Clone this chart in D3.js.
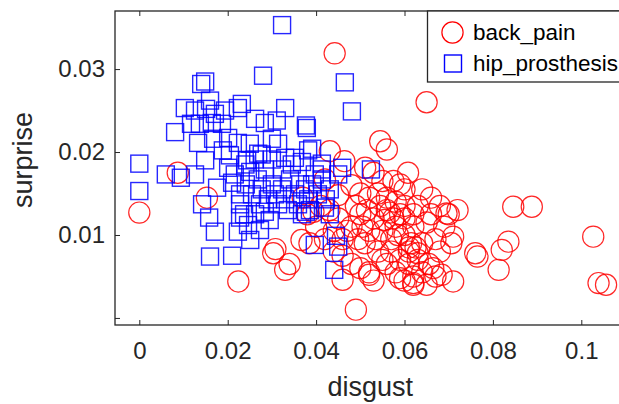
<!DOCTYPE html>
<html>
<head>
<meta charset="utf-8">
<script src="https://cdn.jsdelivr.net/npm/d3@7"></script>
<style>
  body { margin: 0; background: #fff; }
  svg { display: block; font-family: "Liberation Sans", Arial, sans-serif; }
</style>
</head>
<body>
<svg id="canvas"></svg>
<script>
// series: [disgust, surprise]
const backPain = [
  [0.0, 0.0127], [0.0087, 0.0175], [0.0153, 0.0145], [0.0224, 0.0044], [0.0303, 0.0078],
  [0.0308, 0.0083], [0.033, 0.0058], [0.034, 0.0065], [0.0367, 0.0094], [0.0394, 0.0128],
  [0.0442, 0.0319], [0.065, 0.026], [0.0545, 0.0213], [0.056, 0.0203], [0.0431, 0.0201],
  [0.0464, 0.0189], [0.0608, 0.0175], [0.0575, 0.0165], [0.059, 0.0161], [0.042, 0.0167],
  [0.0511, 0.0181],
  [0.038, 0.0125], [0.037, 0.0145], [0.04, 0.011], [0.0385, 0.009], [0.042, 0.0095],
  [0.044, 0.008], [0.046, 0.0095], [0.045, 0.012], [0.041, 0.0135], [0.043, 0.013],
  [0.044, 0.0105], [0.045, 0.0148],
  [0.048, 0.011], [0.05, 0.0125], [0.051, 0.009], [0.052, 0.0105], [0.053, 0.012],
  [0.054, 0.008], [0.055, 0.0105], [0.056, 0.013], [0.057, 0.0095], [0.058, 0.011],
  [0.059, 0.0125], [0.06, 0.01], [0.061, 0.0085], [0.062, 0.011], [0.063, 0.0135],
  [0.06, 0.0135], [0.058, 0.014], [0.056, 0.0145], [0.054, 0.015], [0.052, 0.0145],
  [0.05, 0.015], [0.049, 0.0135], [0.047, 0.0105], [0.046, 0.0075], [0.048, 0.0065],
  [0.05, 0.006], [0.052, 0.0055], [0.053, 0.0045], [0.056, 0.0065], [0.058, 0.0055],
  [0.06, 0.0045], [0.062, 0.005], [0.061, 0.0065], [0.063, 0.007], [0.064, 0.0055],
  [0.065, 0.004], [0.062, 0.004], [0.059, 0.007], [0.057, 0.008], [0.055, 0.007],
  [0.064, 0.009], [0.065, 0.0115], [0.066, 0.0125], [0.067, 0.0095], [0.068, 0.008],
  [0.069, 0.011], [0.07, 0.0125], [0.072, 0.013], [0.068, 0.0135], [0.066, 0.0145],
  [0.064, 0.0155], [0.06, 0.0155], [0.055, 0.0165], [0.053, 0.0175], [0.048, 0.016],
  [0.046, 0.0046], [0.052, 0.0052], [0.059, 0.0048], [0.062, 0.0042], [0.061, 0.008],
  [0.0625, 0.0085], [0.063, 0.0078], [0.0615, 0.009], [0.0567, 0.0127], [0.0575, 0.012],
  [0.0555, 0.0118], [0.0585, 0.01], [0.0535, 0.0095], [0.0505, 0.011], [0.0495, 0.0095],
  [0.0515, 0.013], [0.0545, 0.0135], [0.06, 0.012], [0.062, 0.0125], [0.0655, 0.0065],
  [0.067, 0.005], [0.0665, 0.006],
  [0.0706, 0.009], [0.071, 0.0098], [0.0695, 0.0126], [0.071, 0.0044], [0.0684, 0.0052],
  [0.076, 0.0078], [0.0765, 0.0074], [0.0813, 0.0058], [0.082, 0.0082], [0.0835, 0.0092],
  [0.0846, 0.0134], [0.0888, 0.0134], [0.1027, 0.0098], [0.1039, 0.0042], [0.1056, 0.004],
  [0.049, 0.001]
];

const hipProsthesis = [
  [0.0323, 0.0353], [0.028, 0.0292], [0.0465, 0.0284], [0.0481, 0.0249], [0.014, 0.0282],
  [0.0149, 0.0285], [0.016, 0.0262], [0.0103, 0.0253], [0.0126, 0.025], [0.0151, 0.0252],
  [0.0171, 0.0246], [0.0194, 0.025], [0.0223, 0.0253], [0.0081, 0.0224], [0.0117, 0.0234],
  [0.0137, 0.0234], [0.0164, 0.0235], [0.0187, 0.0234], [0.0133, 0.0211], [0.0167, 0.0216],
  [0.0201, 0.0217], [0.0223, 0.0211], [0.0149, 0.019], [0.0189, 0.0202], [0.0205, 0.0196],
  [0.0, 0.0186], [0.033, 0.0253], [0.0232, 0.0258], [0.0262, 0.024], [0.0284, 0.0235],
  [0.0311, 0.0238], [0.0377, 0.0232], [0.0379, 0.0229], [0.025, 0.021], [0.03, 0.0216],
  [0.0314, 0.021], [0.0382, 0.0202], [0.0391, 0.0204], [0.033, 0.0193], [0.0352, 0.0193],
  [0.0413, 0.0186], [0.0269, 0.0198], [0.0244, 0.019], [0.0459, 0.0181], [0.0, 0.0153],
  [0.006, 0.0173], [0.0094, 0.0169], [0.0126, 0.0173], [0.0142, 0.0137], [0.0158, 0.0121],
  [0.0171, 0.0104], [0.016, 0.0074], [0.021, 0.0075], [0.0176, 0.0157], [0.021, 0.0163],
  [0.0228, 0.0121], [0.0223, 0.0104], [0.0201, 0.0181], [0.0228, 0.0149],
  [0.024, 0.0185], [0.0251, 0.0176], [0.0261, 0.0191], [0.0268, 0.0167], [0.0277, 0.0155],
  [0.0284, 0.0179], [0.0291, 0.0143], [0.03, 0.0161], [0.0307, 0.0149], [0.0314, 0.0137],
  [0.0323, 0.0155], [0.033, 0.0143], [0.0336, 0.013], [0.0341, 0.0167], [0.0352, 0.0149],
  [0.0359, 0.0137], [0.0364, 0.0161], [0.0368, 0.0125], [0.0375, 0.0155], [0.0382, 0.0143],
  [0.0386, 0.013], [0.0391, 0.0161], [0.0397, 0.0173], [0.0404, 0.0149], [0.0413, 0.0167],
  [0.0422, 0.0143], [0.0431, 0.0155], [0.0228, 0.0137], [0.0237, 0.0125], [0.0246, 0.0112],
  [0.0262, 0.0125], [0.0273, 0.0137], [0.0284, 0.0128], [0.0295, 0.0118], [0.0255, 0.0149],
  [0.0241, 0.0161], [0.0216, 0.0173], [0.0277, 0.0197], [0.03, 0.0191], [0.0323, 0.0179],
  [0.0345, 0.0185], [0.0368, 0.0188], [0.042, 0.0133], [0.0431, 0.0125], [0.0377, 0.0128],
  [0.0397, 0.0088], [0.0445, 0.0099], [0.045, 0.0086], [0.0441, 0.0058], [0.0524, 0.0179],
  [0.045, 0.0173], [0.0413, 0.0179], [0.0273, 0.0106], [0.0251, 0.0094]
];

const xTicks = [0, 0.02, 0.04, 0.06, 0.08, 0.1];
const xTickLabels = ["0", "0.02", "0.04", "0.06", "0.08", "0.1"];
const yTicks = [0, 0.01, 0.02, 0.03];
const yTickLabels = ["", "0.01", "0.02", "0.03"];
const seriesNames = ["back_pain", "hip_prosthesis"];

const width = 619;
const height = 404;
const plotLeft = 115;
const plotRight = 625.5;
const plotTop = 11;
const plotBottom = 325;
const ink = "#262626";

const canvas = d3.select("#canvas").attr("width", width).attr("height", height);

const xScale = d3.scaleLinear().domain([-0.0055, 0.11]).range([plotLeft, plotRight]);
const yScale = d3.scaleLinear().domain([-0.00085, 0.037]).range([plotBottom, plotTop]);

// markers first, axes box on top
const plot = canvas.append("g");

plot.selectAll("circle")
  .data(backPain)
  .enter()
  .append("circle")
  .attr("cx", (d) => xScale(d[0]))
  .attr("cy", (d) => yScale(d[1]))
  .attr("r", 10.6)
  .attr("fill", "none")
  .attr("stroke", "#ff0000")
  .attr("stroke-opacity", 0.85)
  .attr("stroke-width", 1.2);

const sq = 17;
plot.selectAll("rect")
  .data(hipProsthesis)
  .enter()
  .append("rect")
  .attr("x", (d) => xScale(d[0]) - sq / 2)
  .attr("y", (d) => yScale(d[1]) - sq / 2)
  .attr("width", sq)
  .attr("height", sq)
  .attr("fill", "none")
  .attr("stroke", "#0000ff")
  .attr("stroke-opacity", 0.85)
  .attr("stroke-width", 1.4);

const drawAxes = () => {
  const tickLen = 5;
  const xAxis = d3.axisBottom(xScale)
    .tickValues(xTicks)
    .tickSize(-tickLen)
    .tickPadding(17)
    .tickFormat((d, i) => xTickLabels[i]);
  const yAxis = d3.axisLeft(yScale)
    .tickValues(yTicks)
    .tickSize(-tickLen)
    .tickPadding(10)
    .tickFormat((d, i) => yTickLabels[i]);

  const gx = canvas.append("g")
    .attr("transform", `translate(0, ${plotBottom})`)
    .call(xAxis);
  const gy = canvas.append("g")
    .attr("transform", `translate(${plotLeft}, 0)`)
    .call(yAxis);

  // top and right ticks of the box
  canvas.append("g")
    .attr("transform", `translate(0, ${plotTop})`)
    .call(d3.axisTop(xScale).tickValues(xTicks).tickSize(-tickLen).tickFormat(""));
  canvas.append("g")
    .attr("transform", `translate(${plotRight}, 0)`)
    .call(d3.axisRight(yScale).tickValues(yTicks).tickSize(-tickLen).tickFormat(""));

  canvas.selectAll(".domain").remove();
  canvas.selectAll(".tick line").attr("stroke", ink);
  [gx, gy].forEach((g) => g.selectAll("text")
    .attr("fill", ink)
    .style("font-size", "24px")
    .style("font-family", '"Liberation Sans", Arial, sans-serif'));

  canvas.append("rect")
    .attr("x", plotLeft)
    .attr("y", plotTop)
    .attr("width", plotRight - plotLeft)
    .attr("height", plotBottom - plotTop)
    .attr("fill", "none")
    .attr("stroke", ink)
    .attr("stroke-width", 1.3);

  canvas.append("text")
    .attr("x", (plotLeft + plotRight) / 2)
    .attr("y", 396)
    .attr("text-anchor", "middle")
    .attr("fill", ink)
    .style("font-size", "27px")
    .text("disgust");

  canvas.append("text")
    .attr("transform", "translate(32, 160) rotate(-90)")
    .attr("text-anchor", "middle")
    .attr("fill", ink)
    .style("font-size", "27px")
    .text("surprise");
};

const drawLegend = () => {
  const lg = canvas.append("g");
  lg.append("rect")
    .attr("x", 427.5)
    .attr("y", plotTop)
    .attr("width", 200)
    .attr("height", 71)
    .attr("fill", "#fff")
    .attr("stroke", ink)
    .attr("stroke-width", 1.3);

  lg.append("circle")
    .attr("cx", 452.5)
    .attr("cy", 32.5)
    .attr("r", 10.6)
    .attr("fill", "none")
    .attr("stroke", "#ff0000")
    .attr("stroke-width", 1.2);

  lg.append("rect")
    .attr("x", 453 - sq / 2)
    .attr("y", 63.5 - sq / 2)
    .attr("width", sq)
    .attr("height", sq)
    .attr("fill", "none")
    .attr("stroke", "#0000ff")
    .attr("stroke-width", 1.4);

  lg.selectAll("text.lab")
    .data(seriesNames)
    .enter()
    .append("text")
    .attr("class", "lab")
    .attr("x", 473)
    .attr("y", (d, i) => 39.5 + i * 31)
    .attr("fill", "#000")
    .style("font-size", "22.5px")
    .text((d) => d);
};

drawAxes();
drawLegend();
</script>
</body>
</html>
